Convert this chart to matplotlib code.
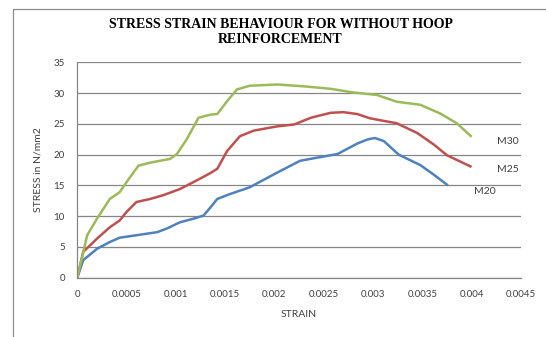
import matplotlib.pyplot as plt
from matplotlib.lines import Line2D

TITLE = "STRESS STRAIN BEHAVIOUR FOR WITHOUT HOOP\nREINFORCEMENT"
XLABEL = "STRAIN"
YLABEL = "STRESS in N/mm2"

# M20 concrete
m20_strain = [0, 0.00006, 0.0002, 0.00033, 0.00043, 0.0006, 0.00081, 0.00091, 0.00104,
              0.00118, 0.00128, 0.00135, 0.00142, 0.00155, 0.00175, 0.00203, 0.00226,
              0.00243, 0.00264, 0.00284, 0.00295, 0.00302, 0.00311, 0.00326, 0.00348,
              0.00362, 0.00376]
m20_stress = [0, 2.85, 4.7, 5.8, 6.5, 6.9, 7.4, 8.0, 9.0,
              9.6, 10.1, 11.4, 12.8, 13.6, 14.7, 17.1, 19.0,
              19.5, 20.1, 21.8, 22.5, 22.7, 22.2, 20.0, 18.3,
              16.7, 15.0]

# M25 concrete
m25_strain = [0, 0.00006, 0.0002, 0.00033, 0.00043, 0.0005, 0.0006, 0.00074, 0.00087,
              0.00104, 0.00121, 0.00135, 0.00142, 0.00152, 0.00165, 0.00179, 0.00203,
              0.0022, 0.00237, 0.00257, 0.0027, 0.00284, 0.00297, 0.00324, 0.00345,
              0.00362, 0.00375, 0.004]
m25_stress = [0, 4.2, 6.35, 8.2, 9.3, 10.7, 12.3, 12.8, 13.4,
              14.4, 15.8, 17.0, 17.7, 20.6, 23.0, 23.9, 24.6,
              24.9, 26.0, 26.8, 26.9, 26.6, 25.9, 25.1, 23.5,
              21.6, 19.9, 18.0]

# M30 concrete
m30_strain = [0, 0.0001, 0.0002, 0.00033, 0.00043, 0.00052, 0.00062, 0.00074, 0.00094,
              0.00101, 0.00111, 0.00123, 0.00135, 0.00142, 0.00152, 0.00162, 0.00175,
              0.00203, 0.0023, 0.00257, 0.0028, 0.00304, 0.00324, 0.00348, 0.00368,
              0.00385, 0.004]
m30_stress = [0, 6.9, 9.6, 12.8, 13.9, 16.0, 18.2, 18.7, 19.3,
              20.1, 22.5, 26.0, 26.5, 26.6, 28.7, 30.6, 31.2,
              31.4, 31.1, 30.7, 30.1, 29.7, 28.6, 28.1, 26.7,
              25.1, 22.9]

series = [
    ("M20", m20_strain, m20_stress, "#4F81BD", (0.00402, 14.0)),
    ("M25", m25_strain, m25_stress, "#C0504D", (0.00426, 17.6)),
    ("M30", m30_strain, m30_stress, "#9BBB59", (0.00426, 22.1)),
]

label_font = "Lato"
fig = plt.figure(figsize=(5.46, 3.37), dpi=100)
ax = fig.add_axes([0.1416, 0.176, 0.8124, 0.639])

for name, x, y, color, pos in series:
    ax.plot(x, y, color=color, lw=1.8, solid_capstyle="butt")
    ax.text(pos[0], pos[1], name, fontsize=7.5, family=label_font,
            color="#404040", ha="left", va="center")

ax.set_xlim(0, 0.0045)
ax.set_ylim(0, 35)
ax.set_xticks([i * 0.0005 for i in range(10)])
ax.set_xticklabels(["0", "0.0005", "0.001", "0.0015", "0.002", "0.0025",
                    "0.003", "0.0035", "0.004", "0.0045"])
ax.set_yticks(range(0, 36, 5))
ax.tick_params(length=0, labelsize=7, colors="#404040", pad=9)
for lbl in ax.get_xticklabels() + ax.get_yticklabels():
    lbl.set_family(label_font)

ax.grid(axis="y", color="#868686", lw=0.9)
ax.set_axisbelow(True)
for side in ("top", "right"):
    ax.spines[side].set_visible(False)
for side in ("left", "bottom"):
    ax.spines[side].set_color("#868686")
    ax.spines[side].set_linewidth(0.9)

ax.set_xlabel(XLABEL, fontsize=7.5, family=label_font, color="#404040", labelpad=8)
ax.set_ylabel(YLABEL, fontsize=7.5, family=label_font, color="#404040", labelpad=8)

fig.text(0.514, 0.9036, TITLE, ha="center", va="center", fontsize=10,
         family="Liberation Serif", weight="bold", linespacing=1.2)

# chart frame
fig.add_artist(Line2D([13 / 546, 13 / 546, 1.0], [0.0, 1 - 9 / 337, 1 - 9 / 337],
                      color="#8c8c8c", lw=0.9))

fig.savefig("out.png", dpi=100)
